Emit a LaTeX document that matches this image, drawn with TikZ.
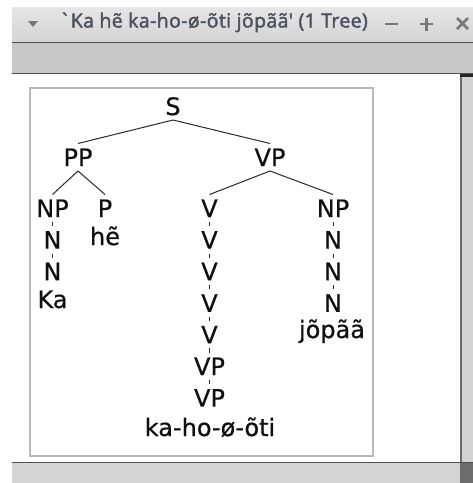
\documentclass[tikz,border=0pt]{standalone}
\usepackage{fontspec}
\newfontfamily\treefont{DejaVu Sans}[FakeBold=0.6]
\newfontfamily\titlefont{Open Sans}[Ligatures=TeXOff, FakeBold=2.2, LetterSpace=2]
\definecolor{tbtop}{HTML}{E6E6E6}
\definecolor{tbbot}{HTML}{D4D4D4}
\definecolor{toolbar}{HTML}{C8C8C8}
\definecolor{sepline}{HTML}{505050}
\definecolor{framegray}{HTML}{B8B8B8}
\definecolor{iconcol}{HTML}{787878}
\definecolor{titlecol}{HTML}{4C5260}
\definecolor{treeink}{HTML}{101010}
\definecolor{edgeink}{HTML}{2A2A2A}
\definecolor{barcol}{HTML}{D4D4D4}
\definecolor{cornercol}{HTML}{6C6C6C}
\begin{document}
\begin{tikzpicture}[x=1pt,y=-1pt,
  tn/.style={font=\treefont\fontsize{24}{28}\selectfont, text=treeink, anchor=base,
    inner sep=0pt, outer ysep=5pt, outer xsep=0pt, text height=17.5pt, text depth=0pt},
  leaf/.style={tn},
  edge/.style={draw=edgeink, line width=1pt},
  icon/.style={draw=iconcol, line width=2.6pt}]
\useasboundingbox (0,0) rectangle (473,483);
\fill[white] (0,0) rectangle (473,483);
% title bar
\shade[top color=tbtop, bottom color=tbbot] (12,7) rectangle (473,42);
\draw[sepline, line width=1.5pt] (12,42.5) -- (473,42.5);
\fill[toolbar] (12,43.25) rectangle (473,73);
\draw[sepline, line width=1.5pt] (12,73.5) -- (473,73.5);
% scrollbar
\fill[barcol!105!white] (461,74.25) rectangle (473,462);
\draw[cornercol, line width=2pt] (460.5,74.25) -- (460.5,462);
\fill[black!85] (460,74.25) rectangle (473,77);
% bottom bar
\fill[barcol] (12,462) rectangle (473,483);
\draw[sepline, line width=1.5pt] (12,462.5) -- (473,462.5);
\fill[cornercol] (459.5,463.25) rectangle (473,483);
% inner frame
\draw[framegray, line width=2pt] (30,88) rectangle (373,456);
% title
\node[font=\titlefont\fontsize{19.5}{23}\selectfont, text=titlecol, anchor=base, inner sep=0pt] (title) at (213.5,27.5) {`Ka hẽ ka-ho-ø-õti jõpãã' (1 Tree)};
\fill[iconcol] (28,21) -- (38,21) -- (33,27) -- cycle;
\draw[icon] (385,24) -- (398,24);
\draw[icon] (420,24) -- (433,24) (426.5,17.5) -- (426.5,30.5);
\draw[icon] (457,18) -- (468,29) (468,18) -- (457,29);
% tree
\node[tn] (S) at (173,115) {S};
\node[tn] (PP) at (78,166) {PP};
\node[tn] (VP) at (270,166) {VP};
\node[tn] (NPa) at (52.5,217) {NP};
\node[tn] (Na1) at (52.5,248.6) {N};
\node[tn] (Na2) at (52.5,280.2) {N};
\node[leaf] (Ka) at (52.5,308) {Ka};
\node[tn] (P) at (105,217) {P};
\node[leaf] (he) at (105,245) {hẽ};
\node[tn] (V1) at (209.5,217) {V};
\node[tn] (V2) at (209.5,248.6) {V};
\node[tn] (V3) at (209.5,280.2) {V};
\node[tn] (V4) at (209.5,311.8) {V};
\node[tn] (V5) at (209.5,343.4) {V};
\node[tn] (VP1) at (209.5,375) {VP};
\node[tn] (VP2) at (209.5,406.6) {VP};
\node[leaf] (kaho) at (210,436) {ka-ho-ø-õti};
\node[tn] (NPb) at (333,217) {NP};
\node[tn] (Nb1) at (333,248.6) {N};
\node[tn] (Nb2) at (333,280.2) {N};
\node[tn] (Nb3) at (333,311.8) {N};
\node[leaf] (jo) at (332,338) {jõpãã};
\draw[edge] (S.south) -- (PP.north);
\draw[edge] (S.south) -- (VP.north);
\draw[edge] (PP.south) -- (NPa.north);
\draw[edge] (PP.south) -- (P.north);
\draw[edge] (VP.south) -- (V1.north);
\draw[edge] (VP.south) -- (NPb.north);
\draw[edge] (NPa.south) -- (Na1.north);
\draw[edge] (Na1.south) -- (Na2.north);
\draw[edge] (V1.south) -- (V2.north);
\draw[edge] (V2.south) -- (V3.north);
\draw[edge] (V3.south) -- (V4.north);
\draw[edge] (V4.south) -- (V5.north);
\draw[edge] (V5.south) -- (VP1.north);
\draw[edge] (VP1.south) -- (VP2.north);
\draw[edge] (NPb.south) -- (Nb1.north);
\draw[edge] (Nb1.south) -- (Nb2.north);
\draw[edge] (Nb2.south) -- (Nb3.north);
\end{tikzpicture}
\end{document}
